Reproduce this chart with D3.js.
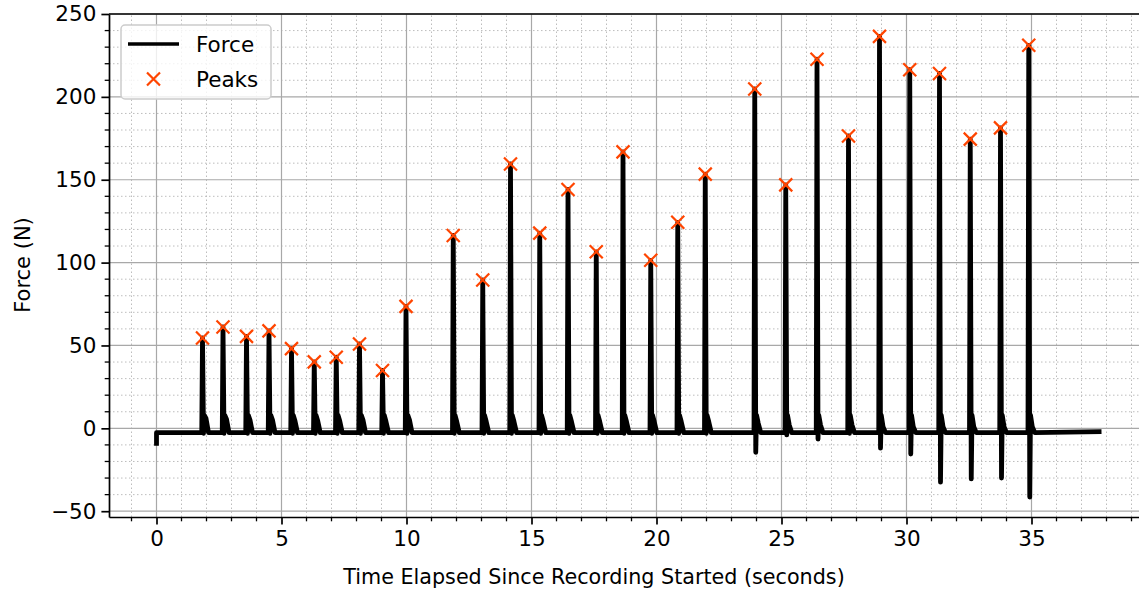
<!DOCTYPE html>
<html>
<head>
<meta charset="utf-8">
<script src="https://cdn.jsdelivr.net/npm/d3@7"></script>
<style>
  body { margin: 0; background: #fff; }
  svg text { font-family: "DejaVu Sans", sans-serif; fill: #000; }
</style>
</head>
<body>
<div id="chart"></div>
<script>
// Peaks picked out of the force trace (seconds, newtons)
var peakTimes = [1.84, 2.66, 3.60, 4.50, 5.40, 6.31, 7.19, 8.12, 9.04, 9.98,
                 11.87, 13.05, 14.16, 15.33, 16.46, 17.59, 18.66, 19.77, 20.85, 21.95,
                 23.93, 25.17, 26.42, 27.68, 28.92, 30.13, 31.32, 32.55, 33.76, 34.89];
var peakForces = [54.5, 61.2, 55.5, 58.8, 48.1, 40.1, 42.9, 50.9, 34.9, 73.6,
                  116.4, 89.5, 159.5, 117.8, 144.1, 106.5, 166.8, 101.4, 124.3, 153.4,
                  204.8, 146.9, 222.7, 176.4, 236.5, 216.4, 214.1, 174.5, 181.3, 231.1];
// lowest value right after each spike (undershoot), and the small rebound bump
var dipForces = [-3, -3, -3, -3, -3, -3, -3, -3, -3, -3,
                 -3, -3, -3, -3, -3, -3, -3, -3, -3, -3,
                 -14.5, -4, -6.5, -3, -12, -15.5, -32.5, -30.5, -30, -41.5];
var bumpForces = [6, 5.5, 5, 5, 4.5, 4.5, 4.5, 5, 4, 5,
                  4, 4, 4, 4, 4, 4, 4, 4, 4, 4,
                  3, 2, 2, 2, 1, 1, 1, 1, 1, 1];
var baseForce = -2.6;
var startForce = -10.5;
var endTime = 37.8;

var xMajor = [0, 5, 10, 15, 20, 25, 30, 35];
var yMajor = [-50, 0, 50, 100, 150, 200, 250];

var W = 1139, H = 591;
var margin = {top: 14, left: 109, bottom: 74, right: -10};

var svg = d3.select('#chart').append('svg')
    .attr('width', W)
    .attr('height', H);

var x = d3.scaleLinear().domain([-1.9, 39.7]).range([margin.left, W - margin.right]);
var y = d3.scaleLinear().domain([-53.5, 250]).range([H - margin.bottom, margin.top]);

// Build the trace: flat baseline with a sharp spike at every peak
var trace = [[0, startForce], [0, baseForce]];
peakTimes.forEach(function(t, i) {
    trace.push([t - 0.03, baseForce]);
    trace.push([t, peakForces[i]]);
    if (dipForces[i] < baseForce) trace.push([t + 0.04, dipForces[i]]);
    trace.push([t + 0.07, 8]);
    trace.push([t + 0.14, bumpForces[i]]);
    trace.push([t + 0.24, baseForce]);
});
trace.push([endTime, baseForce + 0.6]);

var plotG = svg.append('g');

// Minor grid (dotted)
var xMinor = d3.range(-1, 40, 1).filter(function(v) { return v % 5 !== 0; });
var yMinor = d3.range(-50, 251, 10).filter(function(v) { return v % 50 !== 0; });

plotG.selectAll('line.xminor').data(xMinor).enter().append('line')
    .attr('x1', function(d) { return x(d); }).attr('x2', function(d) { return x(d); })
    .attr('y1', y.range()[0]).attr('y2', y.range()[1])
    .attr('stroke', '#bdbdbd').attr('stroke-width', 1).attr('stroke-dasharray', '1.5,2.5');
plotG.selectAll('line.yminor').data(yMinor).enter().append('line')
    .attr('y1', function(d) { return y(d); }).attr('y2', function(d) { return y(d); })
    .attr('x1', x.range()[0]).attr('x2', x.range()[1])
    .attr('stroke', '#bdbdbd').attr('stroke-width', 1).attr('stroke-dasharray', '1.5,2.5');

// Major grid (solid)
plotG.selectAll('line.xmajor').data(xMajor).enter().append('line')
    .attr('x1', function(d) { return x(d); }).attr('x2', function(d) { return x(d); })
    .attr('y1', y.range()[0]).attr('y2', y.range()[1])
    .attr('stroke', '#a8a8a8').attr('stroke-width', 1.2);
plotG.selectAll('line.ymajor').data(yMajor).enter().append('line')
    .attr('y1', function(d) { return y(d); }).attr('y2', function(d) { return y(d); })
    .attr('x1', x.range()[0]).attr('x2', x.range()[1])
    .attr('stroke', '#a8a8a8').attr('stroke-width', 1.2);

// Force line
var line = d3.line()
    .x(function(d) { return x(d[0]); })
    .y(function(d) { return y(d[1]); });

plotG.append('path')
    .datum(trace)
    .attr('d', line)
    .attr('fill', 'none')
    .attr('stroke', '#000')
    .attr('stroke-width', 4.8)
    .attr('stroke-linejoin', 'round');

// Peak markers
var xr = 6.5;
var marks = plotG.selectAll('g.peak')
    .data(peakTimes)
    .enter()
    .append('g')
    .attr('transform', function(d, i) { return 'translate(' + x(d) + ',' + y(peakForces[i]) + ')'; });
marks.append('path')
    .attr('d', 'M' + (-xr) + ',' + (-xr) + 'L' + xr + ',' + xr + 'M' + (-xr) + ',' + xr + 'L' + xr + ',' + (-xr))
    .attr('stroke', '#ff4500')
    .attr('stroke-width', 2.2)
    .attr('fill', 'none');

// Axes
var xAxis = d3.axisBottom(x).tickValues(xMajor).tickSize(7.6).tickPadding(6).tickSizeOuter(0);
var yAxis = d3.axisLeft(y).tickValues(yMajor).tickSize(7.6).tickPadding(5).tickSizeOuter(0)
    .tickFormat(function(d) { return d < 0 ? '\u2212' + Math.abs(d) : d; });

var gx = svg.append('g')
    .attr('transform', 'translate(0,' + y.range()[0] + ')')
    .call(xAxis);
gx.selectAll('line.minor').data(xMinor).enter().append('line')
    .attr('x1', function(d) { return x(d); }).attr('x2', function(d) { return x(d); })
    .attr('y1', 0).attr('y2', 4.3).attr('stroke', '#000').attr('stroke-width', 1.3);

var gy = svg.append('g')
    .attr('transform', 'translate(' + x.range()[0] + ',0)')
    .call(yAxis);
gy.selectAll('line.minor').data(yMinor).enter().append('line')
    .attr('y1', function(d) { return y(d); }).attr('y2', function(d) { return y(d); })
    .attr('x1', 0).attr('x2', -4.3).attr('stroke', '#000').attr('stroke-width', 1.3);

[gx, gy].forEach(function(g) {
    g.select('.domain').attr('stroke-width', 1.7);
    g.selectAll('.tick line').attr('stroke-width', 1.7);
    g.selectAll('.tick text').style('font-size', '21.5px').style('font-family', '"DejaVu Sans", sans-serif');
});

// top spine
svg.append('line')
    .attr('x1', x.range()[0]).attr('x2', x.range()[1])
    .attr('y1', y.range()[1]).attr('y2', y.range()[1])
    .attr('stroke', '#000').attr('stroke-width', 1.7);

// Axis titles
svg.append('text')
    .attr('x', 594).attr('y', 584)
    .attr('text-anchor', 'middle')
    .style('font-size', '20.7px')
    .text('Time Elapsed Since Recording Started (seconds)');

svg.append('text')
    .attr('transform', 'translate(30,265) rotate(-90)')
    .attr('text-anchor', 'middle')
    .style('font-size', '21px')
    .text('Force (N)');

// Legend
var lg = svg.append('g').attr('transform', 'translate(121,25)');
lg.append('rect')
    .attr('width', 150).attr('height', 74).attr('rx', 4)
    .attr('fill', '#fff').attr('fill-opacity', 0.8)
    .attr('stroke', '#cccccc').attr('stroke-width', 1.5);
lg.append('line')
    .attr('x1', 7).attr('x2', 58).attr('y1', 19).attr('y2', 19)
    .attr('stroke', '#000').attr('stroke-width', 3.3);
lg.append('text').attr('x', 75).attr('y', 27).style('font-size', '21.5px').text('Force');
lg.append('path')
    .attr('transform', 'translate(32.5,54)')
    .attr('d', 'M' + (-xr) + ',' + (-xr) + 'L' + xr + ',' + xr + 'M' + (-xr) + ',' + xr + 'L' + xr + ',' + (-xr))
    .attr('stroke', '#ff4500').attr('stroke-width', 2.2).attr('fill', 'none');
lg.append('text').attr('x', 75).attr('y', 62).style('font-size', '21.5px').text('Peaks');
</script>
</body>
</html>
